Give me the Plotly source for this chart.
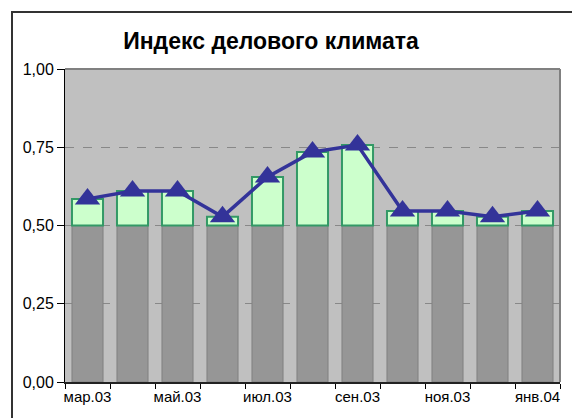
import plotly.graph_objects as go

categories = ["мар.03", "апр.03", "май.03", "июн.03", "июл.03", "авг.03",
              "сен.03", "окт.03", "ноя.03", "дек.03", "янв.04"]
index_values = [0.585, 0.61, 0.61, 0.528, 0.655, 0.735, 0.757, 0.546, 0.546, 0.528, 0.546]
baseline = 0.5
y_ticks = [0, 0.25, 0.5, 0.75, 1.0]

W, H = 580, 418
OFF = 8  # page body margin
# target plot area in screen pixels: x 65..560, y 69..382
L, T = 65 - OFF, 69 - OFF
R = W - (560 - OFF)
B = H - (382 - OFF)
pw, ph = W - L - R, H - T - B

def px_x(p):
    return (p - OFF - L) / pw

def px_y(p):
    return (H - B - (p - OFF)) / ph

xs = list(range(len(categories)))

fig = go.Figure()
fig.add_trace(go.Bar(
    x=xs, y=[baseline] * len(xs), base=0,
    marker=dict(color="#969696", line=dict(color="#808080", width=1)),
    hoverinfo="skip", showlegend=False,
))
fig.add_trace(go.Bar(
    x=xs, y=[v - baseline for v in index_values], base=baseline,
    marker=dict(color="#CCFFCC", line=dict(color="#339966", width=2)),
    showlegend=False,
))
fig.add_trace(go.Scatter(
    x=xs, y=index_values, mode="lines+markers",
    line=dict(color="#333399", width=3.5),
    marker=dict(symbol="triangle-up", size=22, color="#333399"),
    showlegend=False,
))

fig.update_layout(
    width=W, height=H,
    margin=dict(l=L, r=R, t=T, b=B, autoexpand=False),
    paper_bgcolor="white", plot_bgcolor="#C0C0C0",
    barmode="overlay", bargap=0.31,
    separators=", ",
    font=dict(family="Liberation Sans, Arial, sans-serif", size=15, color="black"),
    title=dict(text="<b>Индекс делового климата</b>", x=(271 - OFF) / W, xanchor="center",
               xref="container", y=1 - (41 - OFF) / H, yref="container", yanchor="middle",
               font=dict(size=23, color="black")),
    xaxis=dict(
        range=[-0.5, len(xs) - 0.5], tickmode="array",
        tickvals=xs[::2], ticktext=categories[::2], ticks="",
        tickfont=dict(size=15),
        showline=True, linecolor="#222222", linewidth=2, showgrid=False,
        zeroline=False,
        minor=dict(tickmode="array", tickvals=[i - 0.5 for i in range(len(xs) + 1)],
                   ticks="outside", ticklen=5, tickcolor="black", tickwidth=1, showgrid=False),
    ),
    yaxis=dict(
        range=[0, 1], tickmode="array", tickvals=y_ticks, tickformat=".2f",
        tickfont=dict(size=16),
        ticks="outside", ticklen=7, tickcolor="black",
        showline=True, linecolor="black", linewidth=1,
        showgrid=True, gridcolor="#888888", griddash="dash", gridwidth=1,
        zeroline=False,
    ),
    shapes=[
        dict(type="line", xref="paper", yref="paper", x0=0, x1=1, y0=1, y1=1,
             line=dict(color="#808080", width=2), layer="above"),
        dict(type="line", xref="paper", yref="paper", x0=1, x1=1, y0=0, y1=1,
             line=dict(color="#808080", width=2), layer="above"),
        dict(type="rect", xref="paper", yref="paper",
             x0=px_x(12), x1=px_x(W + 40), y0=px_y(H + 40), y1=px_y(12),
             line=dict(color="#333333", width=2), layer="below"),
    ],
)

fig.write_html("out.html")
